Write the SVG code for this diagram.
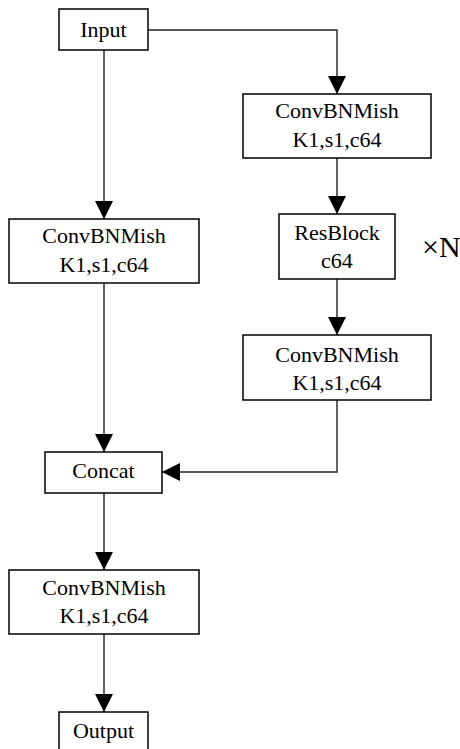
<svg xmlns="http://www.w3.org/2000/svg" width="460" height="749" viewBox="0 0 460 749">
<style>
.box{fill:#fff;stroke:#000;stroke-width:1.5}
.c{fill:none;stroke:#222;stroke-width:1.4}
</style>
<defs>
<marker id="arr" viewBox="0 0 18 18" refX="18" refY="9" markerWidth="18" markerHeight="18" markerUnits="userSpaceOnUse" orient="auto">
<path d="M0,0 L18,9 L0,18 z" fill="#000"/>
</marker>
</defs>
<rect width="460" height="749" fill="#fff"/>
<g id="connectors">
<path class="c" d="M148,30 H337 V94" marker-end="url(#arr)"/>
<path class="c" d="M104,50 V219" marker-end="url(#arr)"/>
<path class="c" d="M337,158 V214" marker-end="url(#arr)"/>
<path class="c" d="M337,279 V335" marker-end="url(#arr)"/>
<path class="c" d="M337,400 V472 H162" marker-end="url(#arr)"/>
<path class="c" d="M104,283 V452" marker-end="url(#arr)"/>
<path class="c" d="M104,493 V570" marker-end="url(#arr)"/>
<path class="c" d="M104,634 V712" marker-end="url(#arr)"/>
</g>
<g font-family="Liberation Serif, Times New Roman, serif" font-size="22" fill="#000" text-anchor="middle">
<g id="input">
<rect class="box" x="59" y="9" width="89" height="41"/>
<text x="103.5" y="37">Input</text>
</g>
<g id="convbnmish_r1">
<rect class="box" x="243" y="94" width="188" height="64"/>
<text x="337" y="118">ConvBNMish</text>
<text x="337" y="147">K1,s1,c64</text>
</g>
<g id="convbnmish_l">
<rect class="box" x="9" y="219" width="190" height="64"/>
<text x="104" y="243">ConvBNMish</text>
<text x="104" y="272">K1,s1,c64</text>
</g>
<g id="resblock">
<rect class="box" x="279" y="214" width="116" height="65"/>
<text x="337" y="240">ResBlock</text>
<text x="337" y="268">c64</text>
</g>
<g id="times_n">
<text x="422" y="257" font-size="30" text-anchor="start">×N</text>
</g>
<g id="convbnmish_r2">
<rect class="box" x="243" y="335" width="188" height="65"/>
<text x="337" y="362">ConvBNMish</text>
<text x="337" y="390">K1,s1,c64</text>
</g>
<g id="concat">
<rect class="box" x="45" y="452" width="117" height="41"/>
<text x="103.5" y="478">Concat</text>
</g>
<g id="convbnmish_out">
<rect class="box" x="9" y="570" width="190" height="64"/>
<text x="104" y="595">ConvBNMish</text>
<text x="104" y="623">K1,s1,c64</text>
</g>
<g id="output">
<rect class="box" x="59" y="712" width="89" height="45"/>
<text x="103.5" y="738">Output</text>
</g>
</g>
</svg>
